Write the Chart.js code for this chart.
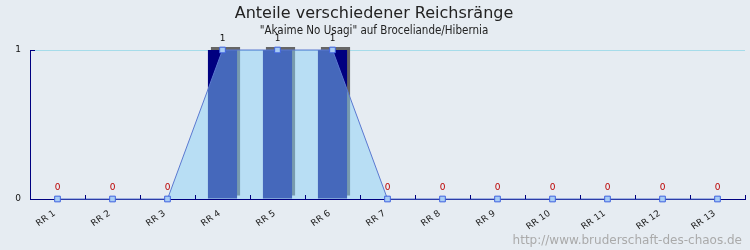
<!DOCTYPE html>
<html>
<head>
<meta charset="utf-8">
<script src="https://cdn.jsdelivr.net/npm/chart.js@4/dist/chart.umd.min.js"></script>
<style>
  html, body { margin: 0; padding: 0; background: #e6ecf2; }
  #wrap { width: 750px; height: 250px; position: relative; }
</style>
</head>
<body>
<div id="wrap"><canvas id="chart" width="750" height="250"></canvas></div>
<script>
const labels = ["RR 1", "RR 2", "RR 3", "RR 4", "RR 5", "RR 6", "RR 7", "RR 8", "RR 9", "RR 10", "RR 11", "RR 12", "RR 13"];
const values = [0, 0, 0, 1, 1, 1, 0, 0, 0, 0, 0, 0, 0];
const yTicks = [0, 1];

const titleText = "Anteile verschiedener Reichsränge";
const subtitleText = "\"Akaime No Usagi\" auf Broceliande/Hibernia";
const footerText = "http://www.bruderschaft-des-chaos.de";

const FONT = "'DejaVu Sans', sans-serif";

// bar shadow, top + right
const barShadow = {
  id: "barShadow",
  beforeDatasetDraw(chart, args) {
    if (args.index !== 0) return;
    const ctx = chart.ctx;
    ctx.save();
    ctx.shadowColor = "#666666";
    ctx.shadowOffsetX = 3;
    ctx.shadowOffsetY = -3;
    ctx.shadowBlur = 0;
  },
  afterDatasetDraw(chart, args) {
    if (args.index !== 0) return;
    chart.ctx.restore();
  }
};

const decorations = {
  id: "decorations",
  afterDatasetsDraw(chart) {
    const ctx = chart.ctx;
    const x = chart.scales.x, y = chart.scales.y;
    const area = chart.chartArea;
    ctx.save();
    // tick marks between categories, pointing up
    ctx.strokeStyle = "#000080";
    ctx.lineWidth = 1;
    const step = x.getPixelForValue(1) - x.getPixelForValue(0);
    for (let i = 1; i <= labels.length; i++) {
      const px = Math.round(x.getPixelForValue(i) - step / 2) + 0.5;
      ctx.beginPath();
      ctx.moveTo(px, area.bottom);
      ctx.lineTo(px, area.bottom - 4);
      ctx.stroke();
    }
    // small y tick marks to the right of the axis
    yTicks.forEach(v => {
      const py = Math.round(y.getPixelForValue(v)) + 0.5;
      ctx.beginPath();
      ctx.moveTo(area.left, py);
      ctx.lineTo(area.left + 5, py);
      ctx.stroke();
    });
    // value labels
    ctx.font = "9px " + FONT;
    ctx.textAlign = "center";
    ctx.textBaseline = "bottom";
    values.forEach((v, i) => {
      ctx.fillStyle = v === 0 ? "#bb0000" : "#111111";
      ctx.fillText(String(v), x.getPixelForValue(i), y.getPixelForValue(v) - 7);
    });
    ctx.restore();
  },
  afterDraw(chart) {
    const ctx = chart.ctx;
    ctx.save();
    ctx.textAlign = "center";
    ctx.textBaseline = "alphabetic";
    ctx.fillStyle = "#222222";
    ctx.font = "16px " + FONT;
    ctx.fillText(titleText, 374, 18);
    ctx.font = "11.5px 'DejaVu Sans Condensed', " + FONT;
    ctx.fillText(subtitleText, 374, 34);
    ctx.textAlign = "right";
    ctx.fillStyle = "#aaaaaa";
    ctx.font = "12px " + FONT;
    ctx.fillText(footerText, 742, 244);
    ctx.restore();
  }
};

new Chart(document.getElementById("chart"), {
  data: {
    labels: labels,
    datasets: [
      {
        type: "bar",
        data: values,
        backgroundColor: "#000080",
        borderWidth: 0,
        barPercentage: 0.53,
        categoryPercentage: 1,
        order: 2,
        clip: false
      },
      {
        type: "line",
        data: values,
        borderColor: "#5a78d0",
        borderWidth: 1,
        backgroundColor: "rgba(137, 208, 246, 0.5)",
        fill: "origin",
        tension: 0,
        pointStyle: "rect",
        pointRadius: 4,
        pointBackgroundColor: "#a8ccf4",
        pointBorderColor: "#3f63e0",
        pointBorderWidth: 1,
        order: 1,
        clip: false
      }
    ]
  },
  options: {
    responsive: false,
    animation: false,
    layout: { padding: { top: 50, right: 5, left: 0, bottom: 0 } },
    plugins: {
      legend: { display: false },
      tooltip: { enabled: false },
      title: { display: false }
    },
    scales: {
      x: {
        offset: true,
        afterFit: s => { s.height = 51; },
        border: { color: "#000080", width: 1 },
        grid: { display: false },
        ticks: {
          color: "#1a1a1a",
          font: { family: FONT, size: 9 },
          maxRotation: 35,
          minRotation: 35,
          labelOffset: -3,
          padding: 1
        }
      },
      y: {
        min: 0,
        max: 1,
        afterFit: s => { s.width = 30; },
        afterBuildTicks: s => { s.ticks = yTicks.map(v => ({ value: v })); },
        border: { color: "#000080", width: 1 },
        grid: {
          drawTicks: false,
          color: ctx => ctx.tick && ctx.tick.value === 1 ? "#a6dcea" : "rgba(0,0,0,0)"
        },
        ticks: {
          color: "#111111",
          font: { family: FONT, size: 9 },
          padding: 9
        }
      }
    }
  },
  plugins: [barShadow, decorations]
});
</script>
</body>
</html>
